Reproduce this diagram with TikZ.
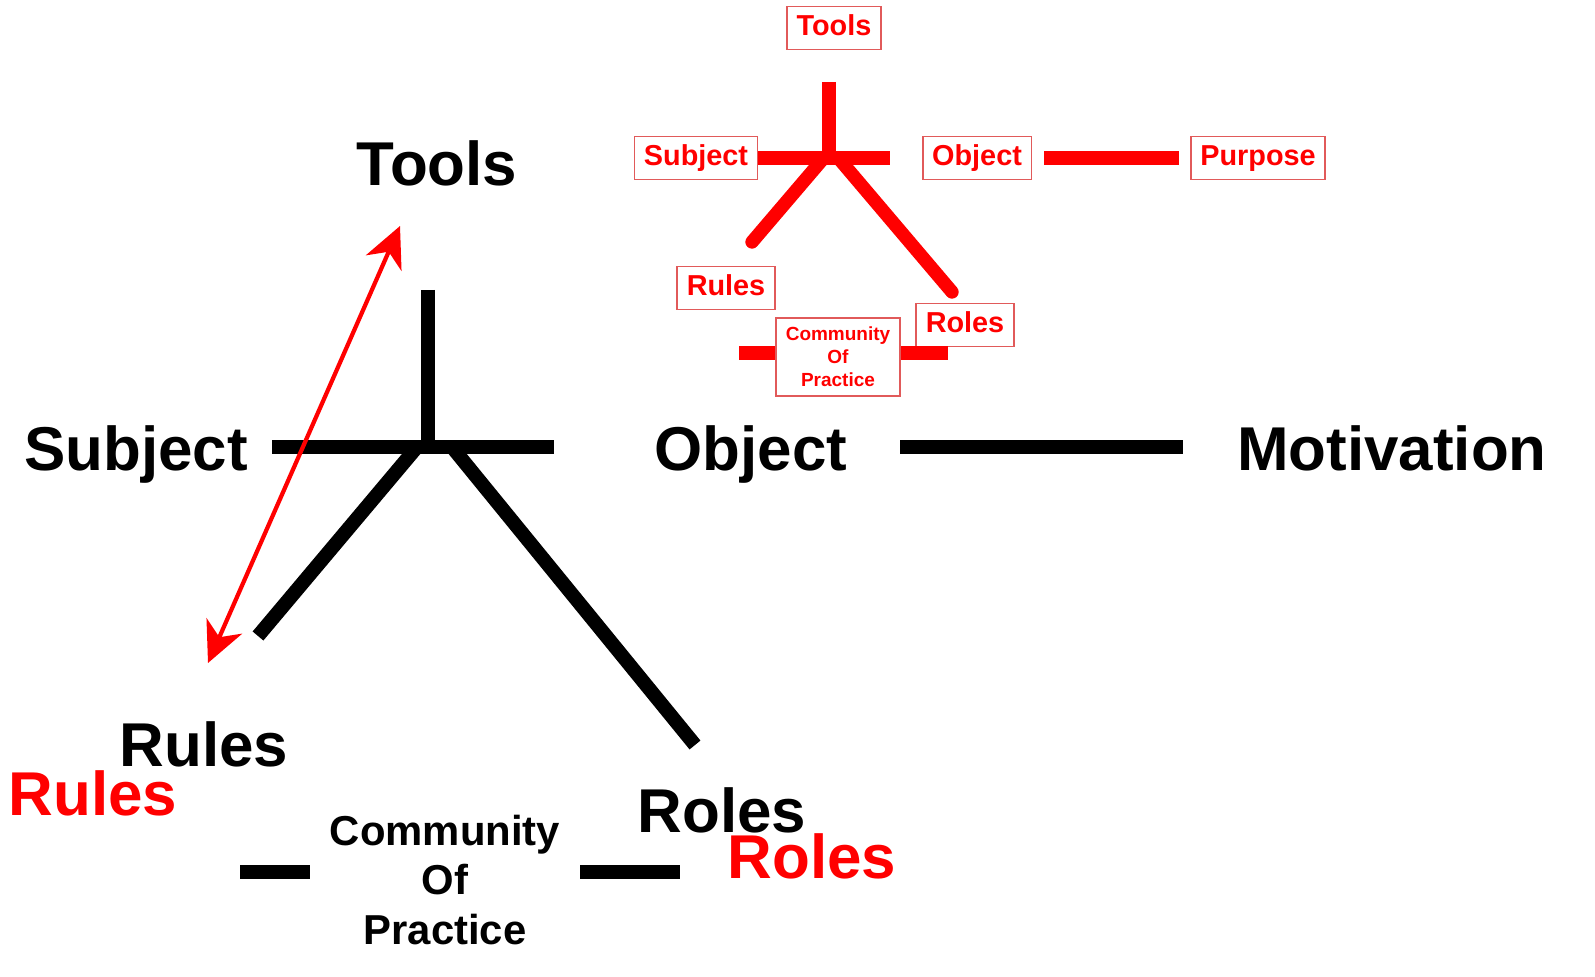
\documentclass[tikz,border=0pt]{standalone}
\usepackage{fontspec}
\setmainfont{Liberation Sans}
\usetikzlibrary{arrows.meta}
\definecolor{boxred}{RGB}{225,90,90}

\begin{document}
\begin{tikzpicture}
  [x=0.01cm,y=-0.01cm,
   every node/.style={font=\bfseries\fontsize{17.6}{20}\selectfont},
   big/.style={anchor=base},
   redbig/.style={anchor=base,text=red},
   tag/.style={draw=boxred,line width=0.5pt,text=red,inner xsep=2.7pt,inner ysep=2.2pt,
     text height=6.1pt,text depth=1.7pt,font=\bfseries\fontsize{8.2}{9}\selectfont},
   bar/.style={line width=4pt},
   redbar/.style={red,line width=3.8pt}]
  \useasboundingbox (0,0) rectangle (1595,977);

  % big black triangle
  \node[big] (tools) at (437,186) {Tools};
  \node[big] (subject) at (136,471) {Subject};
  \node[big] (object) at (751,471) {Object};
  \node[big] (motivation) at (1392,471) {Motivation};
  \node[big] (rules) at (204,767) {Rules};
  \node[redbig] (rulesred) at (93,815) {Rules};
  \node[big] (roles) at (722,833) {Roles};
  \node[redbig] (rolesred) at (812,878) {Roles};
  \node[align=center,font=\bfseries\fontsize{11.9}{14.2}\selectfont] (community) at (445,880)
    {Community\\Of\\Practice};

  \coordinate (hubtop) at (428,290);
  \coordinate (hub) at (428,447);
  \coordinate (hl) at (272,447);
  \coordinate (hr) at (554,447);
  \coordinate (dl1) at (417,447);
  \coordinate (dl2) at (258,636);
  \coordinate (dr1) at (452,447);
  \coordinate (dr2) at (695,745);
  \coordinate (ol) at (900,447);
  \coordinate (or) at (1183,447);
  \coordinate (cl1) at (240,872);
  \coordinate (cl2) at (310,872);
  \coordinate (cr1) at (580,872);
  \coordinate (cr2) at (680,872);

  \foreach \from/\to in {hubtop/hub,dl1/dl2,dr1/dr2,hl/hr,ol/or,cl1/cl2,cr1/cr2}
    \draw[bar] (\from) -- (\to);

  \coordinate (arrowlow) at (208,663);
  \coordinate (arrowhigh) at (400,226);
  \draw[red,line width=1.2pt,
    {Stealth[length=11.5pt,width=11pt,inset=3.5pt]}-{Stealth[length=11.5pt,width=11pt,inset=3.5pt]}]
    (arrowlow) -- (arrowhigh);

  % small red triangle
  \node[tag] (ttools) at (834,28) {Tools};
  \node[tag] (tsubject) at (696,158) {Subject};
  \node[tag] (tobject) at (977,158) {Object};
  \node[tag] (tpurpose) at (1258,158) {Purpose};
  \node[tag] (trules) at (726,288) {Rules};
  \node[tag] (troles) at (965,325) {Roles};
  \node[tag,align=center,minimum width=35.3pt,minimum height=22.2pt,text height=,text depth=,
    font=\bfseries\fontsize{5.4}{6.5}\selectfont] (tcommunity) at (838,357) {Community\\Of\\Practice};

  \coordinate (rtop) at (829,82);
  \coordinate (rhub) at (829,158);
  \coordinate (rhr) at (890,158);
  \coordinate (rdl1) at (822,160);
  \coordinate (rdl2) at (752,242);
  \coordinate (rdr1) at (840,160);
  \coordinate (rdr2) at (952,292);
  \coordinate (rcl) at (739,353);
  \coordinate (rcr) at (948,353);

  \foreach \from/\to in {rtop/rhub,tsubject.east/rhr,rcl/rcl-|tcommunity.west,rcr-|tcommunity.east/rcr}
    \draw[redbar] (\from) -- (\to);
  \draw[redbar,shorten <=3.4pt,shorten >=3.1pt] (tobject) -- (tpurpose);
  \foreach \from/\to in {rdl1/rdl2,rdr1/rdr2}
    \draw[redbar,line cap=round] (\from) -- (\to);
\end{tikzpicture}
\end{document}
